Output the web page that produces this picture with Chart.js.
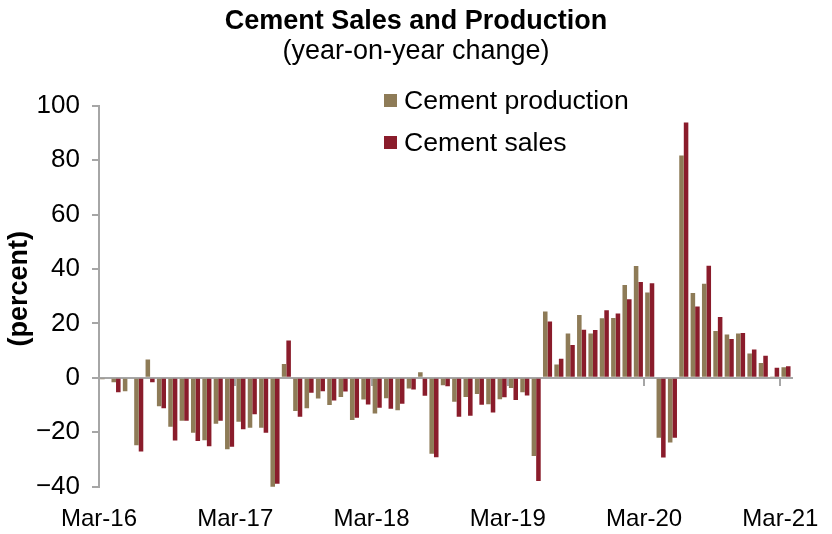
<!DOCTYPE html>
<html>
<head>
<meta charset="utf-8">
<script src="https://cdn.jsdelivr.net/npm/chart.js@4"></script>
<style>
  html, body { margin: 0; padding: 0; background: #fff; }
  #wrap { position: relative; width: 832px; height: 534px; }
  #legend { position: absolute; left: 384px; top: 79px; font-family: "Liberation Sans", Arial, sans-serif; font-size: 26.6px; color: #000; }
  .item { display: flex; align-items: center; height: 42px; white-space: nowrap; }
  .box { width: 13px; height: 13px; margin-right: 7px; }
</style>
</head>
<body>
<div id="wrap">
  <canvas id="chart" width="832" height="534"></canvas>
  <div id="legend">
    <div class="item"><span class="box" style="background:#8e7b57"></span>Cement production</div>
    <div class="item"><span class="box" style="background:#8a1c2b"></span>Cement sales</div>
  </div>
</div>
<script>
// monthly, Mar-16 .. Mar-21
const months = [
  "Mar-16", "Apr-16", "May-16", "Jun-16", "Jul-16", "Aug-16", "Sep-16", "Oct-16", "Nov-16", "Dec-16", "Jan-17", "Feb-17",
  "Mar-17", "Apr-17", "May-17", "Jun-17", "Jul-17", "Aug-17", "Sep-17", "Oct-17", "Nov-17", "Dec-17", "Jan-18", "Feb-18",
  "Mar-18", "Apr-18", "May-18", "Jun-18", "Jul-18", "Aug-18", "Sep-18", "Oct-18", "Nov-18", "Dec-18", "Jan-19", "Feb-19",
  "Mar-19", "Apr-19", "May-19", "Jun-19", "Jul-19", "Aug-19", "Sep-19", "Oct-19", "Nov-19", "Dec-19", "Jan-20", "Feb-20",
  "Mar-20", "Apr-20", "May-20", "Jun-20", "Jul-20", "Aug-20", "Sep-20", "Oct-20", "Nov-20", "Dec-20", "Jan-21", "Feb-21",
  "Mar-21"
];

const production = [
  -0.5, -1.6, -4.9, -24.8, 6.7, -10.4, -18.0, -15.8, -20.2, -22.9, -16.9, -26.2,
  -16.1, -18.3, -18.3, -40.7, 5.1, -12.2, -11.2, -7.6, -10.0, -7.0, -15.5, -8.0,
  -13.1, -7.5, -11.9, -3.9, 2.1, -27.9, -2.7, -8.8, -7.0, -5.9, -9.7, -7.9,
  -3.7, -5.3, -28.7, 24.4, 4.9, 16.3, 23.1, 16.3, 21.9, 22.0, 34.1, 41.1,
  31.4, -22.0, -23.8, 81.7, 31.2, 34.6, 17.2, 15.9, 16.3, 8.9, 5.5, 0.5,
  3.9
];

const sales = [
  -0.3, -5.3, -0.3, -27.1, -1.6, -11.2, -23.0, -15.8, -23.2, -25.1, -15.8, -25.3,
  -18.9, -13.4, -20.2, -38.9, 13.7, -14.3, -5.5, -4.9, -8.3, -5.0, -14.7, -9.8,
  -11.0, -11.4, -9.5, -4.3, -6.6, -29.2, -3.1, -14.3, -13.9, -9.9, -12.7, -7.1,
  -8.1, -6.5, -37.9, 20.7, 7.0, 12.1, 17.7, 17.6, 24.8, 23.6, 28.9, 35.2,
  34.8, -29.3, -22.0, 93.8, 26.2, 41.2, 22.4, 14.3, 16.5, 10.4, 8.1, 3.7,
  4.3
];

const yTicks = [-40, -20, 0, 20, 40, 60, 80, 100];

const FONT = '"Liberation Sans", Arial, sans-serif';
const AXIS = "#a6a6a6";
Chart.defaults.font.family = FONT;
Chart.defaults.color = "#000";

new Chart(document.getElementById("chart"), {
  type: "bar",
  data: {
    labels: months,
    datasets: [
      { label: "Cement production", data: production, backgroundColor: "#8e7b57", barPercentage: 1, categoryPercentage: 0.8 },
      { label: "Cement sales", data: sales, backgroundColor: "#8a1c2b", barPercentage: 1, categoryPercentage: 0.8 }
    ]
  },
  options: {
    responsive: false,
    animation: false,
    layout: { padding: 0 },
    plugins: {
      legend: { display: false },
      tooltip: { enabled: false },
      title: {
        display: true,
        text: "Cement Sales and Production",
        color: "#000",
        font: { size: 27, weight: "bold", lineHeight: 1.1 },
        padding: { top: 7, bottom: 0 }
      },
      subtitle: {
        display: true,
        text: "(year-on-year change)",
        color: "#000",
        font: { size: 27, lineHeight: 1.1 },
        padding: { top: 0, bottom: 39.3 }
      }
    },
    scales: {
      x: {
        offset: true,
        // invisible tick marks only push the labels down; the small tick padding
        // also sets the right margin through the last label
        grid: { display: true, drawOnChartArea: false, drawTicks: true, tickLength: 10, color: "rgba(0,0,0,0)" },
        border: { display: false },
        ticks: {
          autoSkip: false,
          maxRotation: 0,
          minRotation: 0,
          padding: 8,
          labelOffset: -5.66,
          font: { size: 24 },
          callback: function (v, i) { return i % 12 === 0 ? this.getLabelForValue(v) : ""; }
        },
        afterFit: function (s) { s.height = 47.3; }
      },
      x2: {
        type: "category",
        position: { y: 0 },
        offset: true,
        z: 1,
        grid: {
          offset: true,
          drawOnChartArea: false,
          tickLength: 7,
          lineWidth: 2,
          color: (c) => (c.index % 12 === 0 ? AXIS : "rgba(0,0,0,0)")
        },
        border: { color: AXIS, width: 2 },
        ticks: { display: false }
      },
      y: {
        min: yTicks[0],
        max: yTicks[yTicks.length - 1],
        afterBuildTicks: (s) => { s.ticks = yTicks.map((v) => ({ value: v })); },
        ticks: {
          padding: 12,
          font: { size: 26 },
          callback: (v) => String(v).replace("-", "\u2212")
        },
        grid: { drawOnChartArea: false, tickLength: 7, lineWidth: 2, color: AXIS },
        border: { color: AXIS, width: 2 },
        title: {
          display: true,
          // leading spaces nudge the rotated label up a little
          text: "\u00a0\u00a0(percent)",
          font: { size: 27, weight: "bold" },
          padding: { top: 3, bottom: 0 }
        },
        afterFit: function (s) { s.width = 99; }
      }
    }
  }
});
</script>
</body>
</html>
